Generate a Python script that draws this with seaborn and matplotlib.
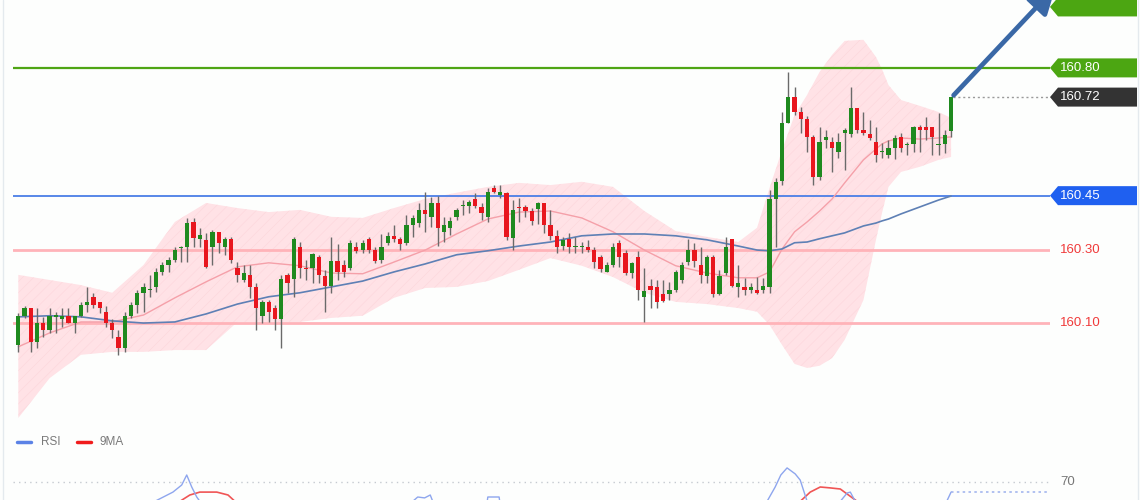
import numpy as np
import pandas as pd
import matplotlib
matplotlib.use('Agg')
import matplotlib.pyplot as plt
from matplotlib.patches import Polygon
from matplotlib.lines import Line2D
from matplotlib.transforms import blended_transform_factory
import seaborn as sns

sns.set_style('white')
plt.rcParams['font.family'] = ['Liberation Sans', 'DejaVu Sans']
plt.rcParams['hatch.linewidth'] = 0.4

# --- candles ---
OPEN = [160.041, 160.121, 160.142, 160.049, 160.101, 160.082, 160.118, 160.112, 160.121, 160.101,
        160.121, 160.150, 160.173, 160.159, 160.131, 160.101, 160.063, 160.033, 160.121, 160.150,
        160.184, 160.192, 160.200, 160.241, 160.260, 160.274, 160.306, 160.310, 160.378, 160.332,
        160.329, 160.310, 160.351, 160.310, 160.332, 160.252, 160.219, 160.233, 160.200, 160.121,
        160.159, 160.142, 160.112, 160.233, 160.222, 160.310, 160.252, 160.252, 160.282, 160.230,
        160.203, 160.271, 160.260, 160.252, 160.310, 160.301, 160.332, 160.301, 160.274, 160.321,
        160.340, 160.332, 160.321, 160.370, 160.375, 160.411, 160.392, 160.430, 160.351, 160.362,
        160.392, 160.422, 160.422, 160.441, 160.419, 160.392, 160.471, 160.452, 160.457, 160.334,
        160.419, 160.419, 160.408, 160.414, 160.430, 160.370, 160.340, 160.312, 160.332, 160.310,
        160.310, 160.310, 160.301, 160.282, 160.241, 160.260, 160.321, 160.293, 160.238, 160.282,
        160.173, 160.203, 160.200, 160.181, 160.181, 160.192, 160.219, 160.268, 160.301, 160.260,
        160.230, 160.282, 160.181, 160.238, 160.332, 160.200, 160.200, 160.192, 160.192, 160.192,
        160.200, 160.441, 160.490, 160.649, 160.721, 160.679, 160.660, 160.611, 160.501, 160.603,
        160.597, 160.570, 160.622, 160.619, 160.690, 160.630, 160.619, 160.597, 160.570, 160.562,
        160.581, 160.611, 160.589, 160.592, 160.638, 160.638, 160.638, 160.589, 160.592, 160.627]
HIGH = [160.129, 160.148, 160.142, 160.142, 160.118, 160.142, 160.131, 160.142, 160.142, 160.121,
        160.159, 160.200, 160.184, 160.159, 160.148, 160.112, 160.082, 160.131, 160.159, 160.192,
        160.211, 160.233, 160.252, 160.268, 160.282, 160.310, 160.312, 160.389, 160.389, 160.362,
        160.348, 160.356, 160.351, 160.337, 160.337, 160.268, 160.260, 160.260, 160.211, 160.164,
        160.164, 160.150, 160.233, 160.238, 160.337, 160.323, 160.274, 160.293, 160.288, 160.247,
        160.337, 160.318, 160.274, 160.329, 160.323, 160.329, 160.337, 160.310, 160.345, 160.351,
        160.370, 160.337, 160.397, 160.397, 160.430, 160.460, 160.446, 160.449, 160.392, 160.392,
        160.416, 160.438, 160.438, 160.457, 160.430, 160.471, 160.479, 160.479, 160.460, 160.438,
        160.444, 160.425, 160.416, 160.433, 160.430, 160.411, 160.356, 160.337, 160.348, 160.337,
        160.323, 160.329, 160.310, 160.288, 160.268, 160.321, 160.329, 160.301, 160.268, 160.299,
        160.252, 160.222, 160.219, 160.219, 160.214, 160.247, 160.268, 160.332, 160.321, 160.310,
        160.288, 160.288, 160.247, 160.337, 160.332, 160.260, 160.225, 160.211, 160.227, 160.225,
        160.466, 160.498, 160.679, 160.789, 160.748, 160.693, 160.668, 160.616, 160.638, 160.630,
        160.611, 160.622, 160.636, 160.748, 160.690, 160.679, 160.658, 160.638, 160.595, 160.603,
        160.616, 160.622, 160.597, 160.641, 160.644, 160.666, 160.638, 160.677, 160.630, 160.721]
LOW = [160.022, 160.115, 160.022, 160.033, 160.063, 160.074, 160.074, 160.090, 160.101, 160.074,
       160.118, 160.131, 160.142, 160.129, 160.090, 160.060, 160.014, 160.022, 160.115, 160.129,
       160.131, 160.173, 160.186, 160.233, 160.241, 160.268, 160.268, 160.268, 160.310, 160.310,
       160.252, 160.260, 160.293, 160.288, 160.266, 160.214, 160.214, 160.170, 160.082, 160.101,
       160.104, 160.082, 160.033, 160.184, 160.173, 160.225, 160.219, 160.211, 160.211, 160.131,
       160.184, 160.219, 160.227, 160.247, 160.293, 160.293, 160.293, 160.266, 160.266, 160.315,
       160.323, 160.301, 160.315, 160.337, 160.364, 160.351, 160.364, 160.312, 160.323, 160.343,
       160.384, 160.397, 160.403, 160.416, 160.384, 160.378, 160.457, 160.444, 160.329, 160.301,
       160.378, 160.392, 160.370, 160.373, 160.348, 160.329, 160.293, 160.301, 160.293, 160.293,
       160.293, 160.296, 160.252, 160.241, 160.241, 160.255, 160.255, 160.233, 160.225, 160.164,
       160.104, 160.142, 160.142, 160.159, 160.164, 160.186, 160.211, 160.260, 160.255, 160.211,
       160.211, 160.173, 160.178, 160.233, 160.200, 160.173, 160.178, 160.184, 160.181, 160.184,
       160.184, 160.310, 160.479, 160.649, 160.671, 160.622, 160.570, 160.479, 160.493, 160.581,
       160.515, 160.553, 160.521, 160.611, 160.622, 160.616, 160.603, 160.543, 160.553, 160.553,
       160.551, 160.570, 160.562, 160.570, 160.570, 160.603, 160.562, 160.562, 160.567, 160.611]
CLOSE = [160.121, 160.142, 160.049, 160.101, 160.082, 160.121, 160.123, 160.121, 160.101, 160.121,
         160.150, 160.159, 160.150, 160.142, 160.101, 160.082, 160.033, 160.121, 160.150, 160.184,
         160.200, 160.195, 160.241, 160.260, 160.274, 160.301, 160.310, 160.375, 160.334, 160.343,
         160.255, 160.351, 160.321, 160.332, 160.274, 160.233, 160.238, 160.200, 160.142, 160.159,
         160.131, 160.112, 160.222, 160.211, 160.332, 160.252, 160.249, 160.290, 160.233, 160.203,
         160.271, 160.241, 160.241, 160.321, 160.299, 160.321, 160.301, 160.271, 160.310, 160.340,
         160.332, 160.318, 160.370, 160.389, 160.411, 160.400, 160.430, 160.362, 160.370, 160.381,
         160.411, 160.425, 160.433, 160.422, 160.403, 160.460, 160.460, 160.460, 160.337, 160.411,
         160.416, 160.408, 160.381, 160.430, 160.370, 160.340, 160.310, 160.329, 160.310, 160.312,
         160.311, 160.301, 160.268, 160.249, 160.260, 160.310, 160.282, 160.238, 160.266, 160.192,
         160.189, 160.192, 160.159, 160.162, 160.192, 160.241, 160.260, 160.301, 160.271, 160.233,
         160.282, 160.181, 160.230, 160.310, 160.203, 160.211, 160.192, 160.200, 160.184, 160.203,
         160.441, 160.488, 160.649, 160.721, 160.679, 160.660, 160.611, 160.501, 160.597, 160.611,
         160.581, 160.597, 160.630, 160.690, 160.630, 160.622, 160.608, 160.562, 160.573, 160.581,
         160.608, 160.581, 160.592, 160.638, 160.630, 160.630, 160.611, 160.592, 160.616, 160.721]

# --- moving averages and band, sampled at candle indices ---
SAMPLE_IDX = [0, 5, 10, 15, 20, 25, 30, 35, 40, 45, 50, 55, 60, 65, 70, 75, 80, 85, 90, 95,
              100, 105, 110, 115, 118, 120, 122, 124, 126, 128, 130, 132, 135, 137, 138, 139,
              141, 144, 147, 149]
MA_FAST = [160.036, 160.074, 160.104, 160.104, 160.123, 160.170, 160.214, 160.255, 160.266, 160.258,
           160.238, 160.236, 160.268, 160.301, 160.345, 160.386, 160.405, 160.408, 160.389, 160.351,
           160.301, 160.258, 160.238, 160.225, 160.225, 160.241, 160.304, 160.351, 160.378, 160.408,
           160.441, 160.485, 160.548, 160.578, 160.592, 160.600, 160.608, 160.605, 160.608, 160.611]
MA_SLOW = [160.118, 160.121, 160.118, 160.107, 160.101, 160.104, 160.126, 160.153, 160.173, 160.184,
           160.200, 160.216, 160.241, 160.263, 160.288, 160.299, 160.312, 160.323, 160.340, 160.345,
           160.345, 160.340, 160.329, 160.312, 160.301, 160.299, 160.304, 160.321, 160.323, 160.332,
           160.340, 160.348, 160.367, 160.375, 160.381, 160.386, 160.400, 160.419, 160.438, 160.449]
BB_UPPER = [160.233, 160.219, 160.205, 160.184, 160.260, 160.378, 160.430, 160.416, 160.405, 160.411,
            160.392, 160.389, 160.416, 160.441, 160.458, 160.474, 160.485, 160.479, 160.488, 160.474,
            160.408, 160.353, 160.337, 160.323, 160.362, 160.471, 160.575, 160.671, 160.726, 160.789,
            160.836, 160.874, 160.877, 160.830, 160.795, 160.753, 160.712, 160.696, 160.679, 160.663]
BB_LOWER = [159.841, 159.950, 160.014, 160.022, 160.022, 160.027, 160.027, 160.104, 160.104, 160.104,
            160.115, 160.121, 160.170, 160.197, 160.200, 160.216, 160.247, 160.279, 160.258, 160.227,
            160.184, 160.159, 160.153, 160.142, 160.132, 160.096, 160.041, 159.989, 159.978, 159.984,
            160.005, 160.055, 160.164, 160.329, 160.405, 160.474, 160.515, 160.529, 160.548, 160.556]

# --- levels ---
RESISTANCE = 160.80
PIVOT = 160.45
SUPPORTS = [160.30, 160.10]
TARGET = 160.967
ARROW_END = (165.7, 161.022)

# --- RSI panel (only the upper part is visible) ---
RSI_SEG = ['a'] * 7 + ['b'] * 5 + ['c'] * 4 + ['d'] * 7 + ['e'] * 4 + ['f'] * 2
RSI_X = [21.8, 24.7, 26.1, 26.9, 27.7, 28.5, 29.0,
         63.0, 63.8, 64.9, 65.8, 66.2,
         74.9, 75.0, 76.8, 76.9,
         119.6, 120.9, 121.8, 122.8, 124.1, 124.9, 126.0,
         131.3, 132.4, 132.9, 133.7,
         148.3, 149.0]
RSI_V = [59.5, 64.6, 68.5, 74.0, 67.4, 61.9, 59.5,
         59.5, 61.9, 61.4, 63.0, 59.5,
         59.5, 61.9, 61.9, 59.5,
         59.5, 67.4, 74.0, 77.9, 74.6, 71.2, 59.5,
         59.5, 64.1, 64.6, 59.5,
         59.5, 64.6]
MA9_SEG = ['a'] * 6 + ['b'] * 6
MA9_X = [25.8, 27.4, 29.0, 31.7, 33.5, 34.6,
         124.9, 126.5, 128.1, 129.7, 131.3, 134.0]
MA9_V = [59.5, 63.0, 64.6, 64.6, 63.0, 59.5,
         59.5, 64.6, 67.4, 66.9, 66.3, 59.5]
RSI_LAST = 64.6
RSI_LEVEL = 70

W, H = 1140, 500


def px_rect(l, t, r, b):
    return [l / W, 1 - b / H, (r - l) / W, (b - t) / H]


fig = plt.figure(figsize=(W / 100, H / 100), dpi=100, facecolor='#fdfefd')
ax = fig.add_axes(px_rect(13, 0, 1050, 430))
ax.set_xlim(-0.85, 164.8)
ax.set_ylim(159.808, 160.986)
ax.axis('off')

# bollinger band
ax.fill_between(SAMPLE_IDX, BB_LOWER, BB_UPPER, facecolor='#ffe2e6', edgecolor='#fdd6db',
                hatch='///', linewidth=0, zorder=1)

# level lines
ax.axhline(RESISTANCE, color='#4fa514', lw=1.6, zorder=2)
ax.axhline(PIVOT, color='#4a7ee6', lw=1.3, zorder=2)
for lvl in SUPPORTS:
    ax.axhline(lvl, color='#ffb3b9', lw=2, zorder=2)

# moving averages
sns.lineplot(x=SAMPLE_IDX, y=MA_FAST, ax=ax, color='#f5a0a9', lw=1, zorder=3)
sns.lineplot(x=SAMPLE_IDX, y=MA_SLOW, ax=ax, color='#5e80b5', lw=1.2, zorder=3)

# candles
df = pd.DataFrame({'o': OPEN, 'h': HIGH, 'l': LOW, 'c': CLOSE})
df['i'] = np.arange(len(df))
up = df['c'] >= df['o']
ax.vlines(df['i'], df['l'], df['h'], color='#6a6a6a', lw=1, zorder=4)
ax.bar(df['i'], np.maximum((df['c'] - df['o']).abs(), 0.003), bottom=np.minimum(df['o'], df['c']),
       width=0.68, color=np.where(up, '#1f8a1f', '#e8161e'), linewidth=0, zorder=5)

last = CLOSE[-1]
ax.hlines(last, len(df) - 0.7, 164.8, colors='#9a9a9a', linestyles=(0, (1.5, 2)), lw=1, zorder=3)

ax.annotate('', xy=ARROW_END, xytext=(len(df) - 0.6, last + 0.004),
            arrowprops=dict(arrowstyle='-|>,head_length=0.8,head_width=0.4', color='#3a68a6',
                            lw=3.4, mutation_scale=20, shrinkA=0, shrinkB=0),
            annotation_clip=False, zorder=6)

# price tags on the right
tr = blended_transform_factory(ax.transAxes, ax.transData)
half = 9.5 * (ax.get_ylim()[1] - ax.get_ylim()[0]) / 430


def tag(level, color, text=None):
    pts = [(1.0, level), (1.0077, level + half), (1.0839, level + half),
           (1.0839, level - half), (1.0077, level - half)]
    ax.add_patch(Polygon(pts, closed=True, transform=tr, fc=color, ec='none', clip_on=False))
    if text:
        ax.text(1.0096, level, text, transform=tr, color='white', fontsize=9.5,
                va='center', ha='left', clip_on=False)


tag(TARGET, '#4ca612')
tag(RESISTANCE, '#4ca612', f'{RESISTANCE:.2f}')
tag(round(last, 2), '#333333', f'{last:.2f}')
tag(PIVOT, '#1f60f0', f'{PIVOT:.2f}')
for lvl in SUPPORTS:
    ax.text(1.0096, lvl, f'{lvl:.2f}', transform=tr, color='#f03a3a', fontsize=9.5,
            va='center', ha='left')

# RSI panel
rsi = fig.add_axes(px_rect(13, 455, 1050, 555))
rsi.set_xlim(ax.get_xlim())
rsi.set_ylim(30, 85)
rsi.axis('off')
rsi.axhline(RSI_LEVEL, color='#c5cad0', lw=1, ls=(0, (1, 3)))
rsi_df = pd.DataFrame({'x': RSI_X, 'v': RSI_V, 'seg': RSI_SEG})
ma9_df = pd.DataFrame({'x': MA9_X, 'v': MA9_V, 'seg': MA9_SEG})
sns.lineplot(data=ma9_df, x='x', y='v', units='seg', estimator=None, color='#f05555', lw=1.2,
             ax=rsi, legend=False)
sns.lineplot(data=rsi_df, x='x', y='v', units='seg', estimator=None, color='#8ea6ee', lw=1,
             ax=rsi, legend=False)
rsi.hlines(RSI_LAST, 149, 164.3, colors='#a3b6ee', linestyles=(0, (1.5, 2)), lw=1.2)
tr2 = blended_transform_factory(rsi.transAxes, rsi.transData)
rsi.text(1.0096, RSI_LEVEL, str(RSI_LEVEL), transform=tr2, color='#777777', fontsize=9.5,
         va='center', ha='left', clip_on=False)

# legend
ly = 1 - 442 / H
fig.add_artist(Line2D([17 / W, 31 / W], [ly, ly], color='#5b82e6', lw=2.5))
fig.text(41 / W, ly, 'RSI', color='#7a7a7a', fontsize=8.5, va='center')
fig.add_artist(Line2D([77 / W, 91 / W], [ly, ly], color='#f01c1c', lw=2.5))
fig.text(100 / W, ly, '9MA', color='#7a7a7a', fontsize=8.5, va='center')

# faint frame edges
for xe in (3, 1138):
    fig.add_artist(Line2D([xe / W, xe / W], [0, 1], color='#e4eaee', lw=1))

fig.savefig('out.png', dpi=100, facecolor=fig.get_facecolor())
